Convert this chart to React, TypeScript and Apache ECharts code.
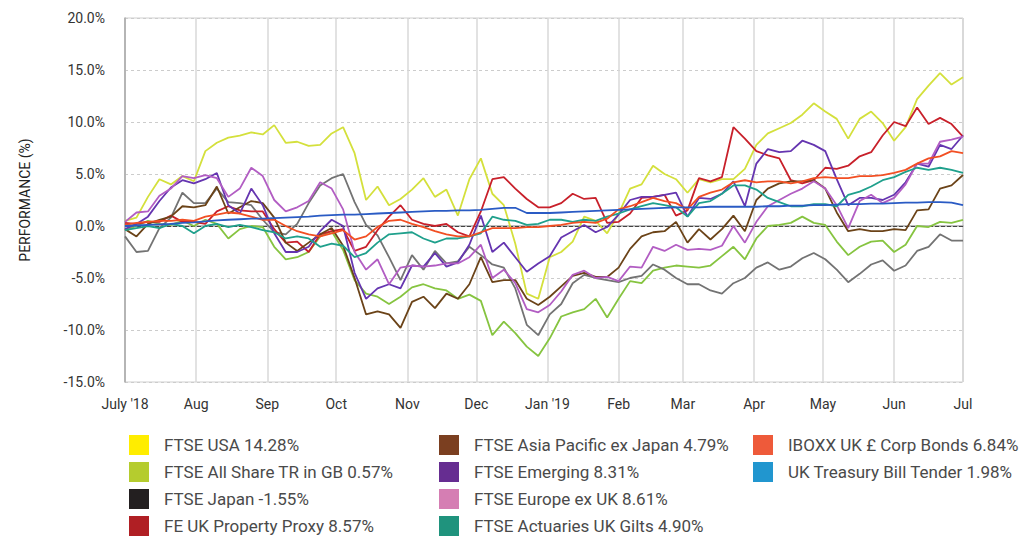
import React, { useEffect, useRef } from "react";
import * as echarts from "echarts";

// Sampling dates: every 5 days from 1 July 2018 to 1 July 2019
const START = Date.UTC(2018, 6, 1);
const END = Date.UTC(2019, 6, 1);
const STEP_DAYS = 5;
const sampleDates = Array.from({ length: 74 }, (_, i) => START + i * STEP_DAYS * 86400000);

const MONTHS = ["Jan", "Feb", "Mar", "Apr", "May", "Jun", "Jul", "Aug", "Sep", "Oct", "Nov", "Dec"];

const names = [
  "FTSE USA 14.28%",
  "FTSE All Share TR in GB 0.57%",
  "FTSE Japan -1.55%",
  "FE UK Property Proxy 8.57%",
  "FTSE Asia Pacific ex Japan 4.79%",
  "FTSE Emerging 8.31%",
  "FTSE Europe ex UK 8.61%",
  "FTSE Actuaries UK Gilts 4.90%",
  "IBOXX UK £ Corp Bonds 6.84%",
  "UK Treasury Bill Tender 1.98%",
];

const swatchColors = ["#FFED00", "#B5CC2E", "#231F20", "#B01F24", "#7B3F20", "#662D91", "#D57EB3", "#1F937D", "#EE5A3A", "#2196CF"];
const lineColors = ["#d4e03c", "#86c440", "#737373", "#c8202a", "#6b4318", "#6535b0", "#b25dc3", "#1fa08c", "#f24f23", "#2a5bc4"];

const usa = [0.5, 0.8, 2.8, 4.5, 4.0, 4.8, 4.3, 7.2, 8.0, 8.5, 8.7, 9.0, 8.8, 9.7, 8.0, 8.1, 7.7, 7.8, 8.9, 9.5, 7.0, 2.5, 3.8, 2.0, 2.6, 3.5, 4.6, 2.8, 3.5, 1.0, 4.5, 6.5, 3.1, 2.0, -1.7, -6.5, -7.0, -3.0, -2.5, -1.5, 0.9, 0.5, -0.7, 1.2, 3.6, 4.0, 5.8, 5.0, 4.5, 3.2, 4.5, 4.2, 4.5, 4.5, 5.5, 7.8, 8.9, 9.4, 9.9, 10.7, 11.8, 11.0, 10.3, 8.4, 10.3, 11.0, 9.9, 8.2, 9.5, 12.2, 13.5, 14.7, 13.6, 14.3];
const allShare = [-0.4, 0.0, 0.5, 0.2, 0.1, 0.5, 0.0, 0.6, 0.2, -1.2, -0.3, 0.0, -0.1, -2.0, -3.2, -3.0, -2.5, -1.0, -0.5, -2.3, -5.2, -6.5, -6.8, -7.5, -6.8, -5.9, -5.6, -6.0, -6.2, -7.0, -6.6, -7.2, -10.5, -9.2, -10.3, -11.6, -12.5, -10.8, -8.7, -8.3, -8.0, -7.0, -8.8, -7.0, -5.3, -5.5, -4.3, -4.0, -3.8, -3.9, -4.0, -3.8, -2.9, -2.0, -3.2, -1.2, 0.0, 0.1, 0.3, 0.9, 0.3, 0.1, -1.5, -2.8, -2.0, -1.5, -1.4, -2.5, -1.8, 0.0, -0.1, 0.4, 0.3, 0.6];
const japan = [-1.0, -2.5, -2.4, -0.2, 0.8, 3.2, 2.2, 2.2, 3.6, 2.3, 2.2, 2.0, 0.6, -0.6, -0.8, 0.2, 2.2, 3.9, 4.6, 5.0, 2.3, 0.1, -0.9, -3.0, -5.2, -2.8, -4.2, -2.4, -3.6, -3.4, -2.0, -2.8, -3.7, -4.0, -6.0, -9.5, -10.5, -8.5, -7.5, -5.5, -4.7, -5.0, -5.2, -5.4, -5.0, -4.8, -3.7, -4.2, -5.0, -5.6, -5.6, -6.2, -6.5, -5.5, -5.0, -4.0, -3.5, -4.2, -3.9, -3.1, -2.6, -3.2, -4.2, -5.4, -4.6, -3.7, -3.3, -4.3, -3.8, -2.4, -2.0, -0.8, -1.4, -1.4];
const property = [0.3, 0.2, 0.4, 0.4, 1.0, 0.4, 0.4, 0.2, 1.4, 1.9, 1.5, 1.4, 1.4, -0.3, -1.6, -1.5, -2.5, -0.8, -0.5, -0.3, -2.4, -2.0, -0.4, 0.9, 2.0, 0.6, 0.2, 0.0, 0.2, -0.6, -1.0, 1.4, 4.5, 4.7, 3.6, 2.6, 1.8, 1.8, 2.2, 3.1, 2.6, 2.7, 0.3, 0.4, 1.2, 2.7, 2.8, 3.0, 1.0, 1.5, 4.6, 4.3, 4.7, 9.5, 8.4, 7.2, 6.8, 6.5, 4.4, 4.1, 4.4, 5.6, 5.5, 5.8, 6.7, 7.1, 8.7, 10.0, 9.6, 11.4, 9.8, 10.4, 9.8, 8.6];
const asiaPac = [-0.3, -1.0, 0.2, 0.6, 0.9, 1.9, 1.8, 2.0, 3.8, 1.2, 1.8, 2.4, 2.2, 0.8, -1.6, -2.4, -1.6, -0.8, -0.2, -1.9, -5.0, -8.5, -8.2, -8.5, -9.8, -7.3, -6.8, -7.9, -6.5, -7.0, -5.6, -3.0, -5.4, -5.2, -5.2, -7.0, -7.6, -6.8, -5.8, -4.8, -4.5, -4.9, -4.9, -4.0, -2.2, -1.0, -0.6, -0.5, 0.4, -1.6, -0.3, -1.3, -0.3, 1.0, -0.5, 2.5, 3.6, 4.1, 4.3, 4.3, 4.4, 3.6, 1.3, -0.5, -0.3, -0.5, -0.5, -0.3, -0.4, 1.5, 1.6, 3.6, 3.9, 4.9];
const emerging = [-0.3, 0.2, 0.9, 2.4, 3.7, 4.4, 4.1, 4.5, 5.1, 2.0, 1.2, 3.6, 2.0, -0.7, -2.5, -2.5, -2.0, -0.5, 0.6, 0.0, -4.5, -7.0, -6.0, -5.6, -6.0, -3.8, -3.9, -2.6, -3.9, -3.5, -1.8, 1.0, -2.5, -1.6, -3.0, -4.4, -3.6, -2.9, -1.1, -0.5, 0.1, -0.6, -0.1, 1.1, 2.5, 2.8, 2.8, 3.0, 3.2, 0.9, 2.7, 2.6, 3.1, 4.3, 1.9, 6.0, 7.4, 7.1, 7.2, 8.2, 7.8, 7.2, 4.5, 2.0, 2.7, 2.7, 2.5, 3.0, 4.2, 6.0, 5.7, 7.8, 7.4, 8.7];
const europe = [0.4, 1.3, 1.4, 2.9, 3.6, 4.8, 4.6, 4.9, 4.6, 2.8, 3.6, 5.6, 4.8, 2.5, 1.4, 1.8, 2.4, 4.2, 3.6, 1.6, -2.5, -4.2, -3.2, -5.6, -4.0, -3.8, -3.9, -3.8, -3.6, -3.6, -3.0, -1.8, -5.0, -4.2, -5.5, -8.0, -8.3, -7.6, -6.3, -4.7, -4.3, -5.0, -4.9, -5.3, -3.9, -4.0, -2.0, -2.4, -1.8, -2.3, -2.2, -2.3, -1.9, 0.0, -1.6, 0.4, 1.9, 2.5, 3.1, 3.6, 4.3, 3.6, 2.0, -0.2, 2.4, 3.0, 2.2, 2.7, 4.0, 6.0, 6.0, 8.1, 8.3, 8.6];
const gilts = [-0.4, -0.2, 0.0, -0.2, 0.2, 0.0, -0.7, 0.0, 0.2, -0.1, 0.1, -0.1, -0.4, -0.6, -1.2, -1.0, -1.2, -2.0, -1.7, -1.9, -3.0, -2.6, -1.6, -0.8, -0.7, -0.6, -1.2, -1.6, -1.2, -1.2, -1.0, -0.7, 0.9, 0.6, 0.5, 0.1, 0.2, 0.6, 0.6, 0.4, 0.6, 0.5, 0.9, 1.2, 1.6, 1.9, 2.2, 2.0, 1.8, 0.9, 2.2, 2.4, 3.1, 3.9, 3.9, 3.5, 2.7, 2.3, 1.9, 1.9, 2.1, 2.1, 1.9, 3.0, 3.3, 3.8, 4.4, 4.7, 5.2, 5.6, 5.4, 5.6, 5.4, 5.1];
const corpBonds = [0.1, 0.3, 0.4, 0.5, 0.5, 0.6, 0.5, 0.9, 1.1, 1.3, 1.2, 0.9, 0.6, 0.6, 0.0, -0.5, -0.8, -1.0, -0.7, -0.4, -1.3, -1.0, -0.1, 0.5, 0.6, 0.2, -0.1, -0.5, -0.8, -1.0, -1.0, -0.6, -0.2, -0.2, -0.2, -0.1, -0.1, 0.0, 0.1, 0.3, 0.4, 0.3, 0.7, 1.6, 1.9, 2.3, 2.7, 2.4, 2.2, 1.6, 2.8, 3.2, 3.5, 4.2, 4.4, 4.2, 4.3, 4.3, 4.1, 4.3, 4.6, 4.7, 4.6, 4.6, 4.8, 4.8, 4.9, 5.1, 5.4, 6.0, 6.5, 6.7, 7.2, 7.0];
const tBill = [0.0, 0.05, 0.1, 0.15, 0.2, 0.3, 0.35, 0.45, 0.55, 0.6, 0.65, 0.7, 0.7, 0.75, 0.8, 0.85, 0.9, 1.0, 1.05, 1.1, 1.1, 1.15, 1.2, 1.25, 1.3, 1.35, 1.4, 1.45, 1.45, 1.5, 1.5, 1.55, 1.65, 1.75, 1.75, 1.25, 1.25, 1.25, 1.3, 1.35, 1.4, 1.45, 1.5, 1.55, 1.6, 1.65, 1.7, 1.75, 1.8, 1.8, 1.8, 1.85, 1.85, 1.85, 1.85, 1.85, 1.9, 1.9, 1.95, 1.95, 2.0, 2.0, 2.05, 2.1, 2.1, 2.15, 2.15, 2.2, 2.25, 2.25, 2.3, 2.3, 2.25, 2.0];

const seriesValues = [usa, allShare, japan, property, asiaPac, emerging, europe, gilts, corpBonds, tBill];

const yTicks = { min: -15, max: 20, interval: 5 };

const legendColumns = [
  { left: 124, items: [0, 1, 2, 3] },
  { left: 434, items: [4, 5, 6, 7] },
  { left: 748, items: [8, 9] },
];

const FONT = "Roboto, 'Noto Sans', sans-serif";
const VIEW_H = 538;
const CHART_H = 580;

export default function App() {
  const ref = useRef<HTMLDivElement>(null);

  useEffect(() => {
    if (!ref.current) return;
    const chart = echarts.init(ref.current, undefined, { renderer: "svg" });

    const series: any[] = seriesValues.map((vals, i) => ({
      name: names[i],
      type: "line",
      showSymbol: false,
      symbol: "none",
      data: vals.map((v, j) => [sampleDates[j], v]),
      lineStyle: { color: lineColors[i], width: 1.8 },
      itemStyle: { color: swatchColors[i] },
      z: 3,
      ...(i === seriesValues.length - 1
        ? {
            markLine: {
              silent: true,
              symbol: "none",
              label: { show: false },
              lineStyle: { color: "#444", type: [4, 2], width: 1 },
              data: [{ yAxis: 0 }],
              z: 1,
            },
          }
        : {}),
    }));

    const legends = legendColumns.map((col) => ({
      orient: "vertical",
      left: col.left,
      top: 430,
      itemWidth: 20,
      itemHeight: 20,
      itemGap: 7,
      icon: "rect",
      selectedMode: false,
      textStyle: { fontFamily: FONT, fontSize: 17, color: "#4a4a4a", padding: [0, 0, 0, 10] },
      data: col.items.map((idx) => ({ name: names[idx], itemStyle: { color: swatchColors[idx] } })),
    }));

    chart.setOption({
      animation: false,
      useUTC: true,
      backgroundColor: "#ffffff",
      textStyle: { fontFamily: FONT },
      grid: { left: 125, right: 56, top: 18, bottom: CHART_H - 382, show: true, borderColor: "#cfcfcf", borderWidth: 1, containLabel: false },
      legend: legends,
      xAxis: {
        type: "time",
        min: START,
        max: END,
        splitNumber: 12,
        axisLine: { show: true, lineStyle: { color: "#a8a8a8", width: 1.5 } },
        axisTick: { show: false },
        splitLine: { show: true, lineStyle: { color: "#d9d9d9", width: 1.5, type: "solid" } },
        axisLabel: {
          fontFamily: FONT,
          fontSize: 14,
          color: "#333",
          margin: 15,
          hideOverlap: false,
          formatter: (val: number) => {
            const d = new Date(val);
            const m = d.getUTCMonth();
            const y = d.getUTCFullYear();
            if (m === 6 && y === 2018) return "July '18";
            if (m === 0) return "Jan '19";
            return MONTHS[m];
          },
        },
      },
      yAxis: {
        type: "value",
        min: yTicks.min,
        max: yTicks.max,
        interval: yTicks.interval,
        name: "PERFORMANCE (%)",
        nameLocation: "middle",
        nameGap: 93,
        nameTextStyle: { fontFamily: FONT, fontSize: 14, color: "#222" },
        axisLine: { show: true, lineStyle: { color: "#a8a8a8", width: 1.5 } },
        axisTick: { show: false },
        splitLine: { show: true, lineStyle: { color: "#cccccc", type: [3, 3], width: 1 } },
        axisLabel: {
          fontFamily: FONT,
          fontSize: 14,
          color: "#333",
          margin: 20,
          formatter: (v: number) => v.toFixed(1) + "%",
        },
      },
      series,
    });

    return () => chart.dispose();
  }, []);

  return (
    <div style={{ position: "absolute", left: 0, top: 0, width: 1019, height: VIEW_H, overflow: "hidden", background: "#fff" }}>
      <div ref={ref} style={{ width: 1019, height: CHART_H }} />
    </div>
  );
}
